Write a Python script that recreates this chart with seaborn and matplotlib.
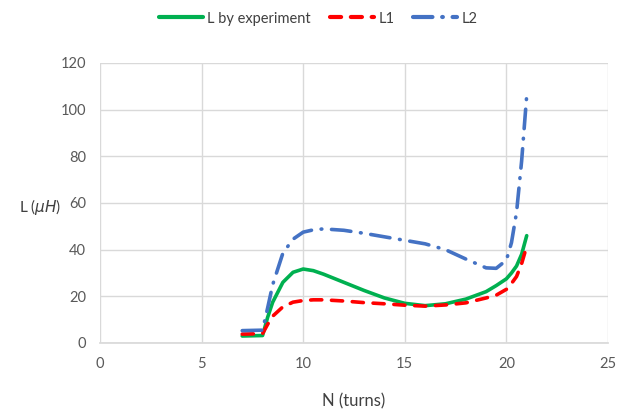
import matplotlib
matplotlib.use("Agg")
import matplotlib.pyplot as plt
import seaborn as sns
import pandas as pd
from matplotlib.lines import Line2D

# ---- data ----
turns = [7, 8, 8.25, 8.5, 9, 9.5, 10, 10.5, 11, 12, 13, 14, 15, 16, 17, 18, 19, 19.5, 20, 20.25, 20.5, 20.75, 21]
l_experiment = [3.0, 3.2, 11.0, 17.5, 26.0, 30.3, 31.7, 31.0, 29.5, 26.0, 22.5, 19.3, 17.0, 16.0, 16.8, 18.8, 22.0, 24.6, 27.5, 30.0, 33.0, 38.0, 46.0]
l1 = [3.8, 4.0, 8.0, 11.5, 15.5, 17.5, 18.2, 18.5, 18.5, 18.0, 17.3, 16.8, 16.2, 15.8, 16.3, 17.2, 19.3, 20.5, 23.0, 25.5, 28.5, 34.0, 41.5]
l2 = [5.3, 5.5, 15.0, 25.0, 38.5, 44.5, 47.5, 48.5, 48.9, 48.3, 47.0, 45.5, 44.0, 42.5, 40.0, 36.0, 32.2, 32.0, 35.5, 43.0, 56.0, 78.0, 106.0]

series_names = ["L by experiment", "L1", "L2"]
x_ticks = [0, 5, 10, 15, 20, 25]
y_ticks = [0, 20, 40, 60, 80, 100, 120]

sns.set_theme(style="whitegrid")
plt.rcParams["font.family"] = ["Lato", "DejaVu Sans"]
plt.rcParams["lines.scale_dashes"] = False

fig = plt.figure(figsize=(6.18, 4.13), dpi=100)
ax = fig.add_axes([0.1618, 0.1695, 0.822, 0.678])

colors = ["#00B050", "#FF0000", "#4472C4"]
styles = ["-", (0, (8, 7)), (0, (14, 7, 0.5, 7))]
values = [l_experiment, l1, l2]

for name, vals, c, ls in zip(series_names, values, colors, styles):
    df = pd.DataFrame({"N": turns, "L": vals})
    sns.lineplot(data=df, x="N", y="L", ax=ax, color=c, linewidth=2.6,
                 linestyle=ls, dash_capstyle="round", solid_capstyle="round")

ax.set_xlim(0, 25)
ax.set_ylim(0, 120)
ax.set_xticks(x_ticks)
ax.set_yticks(y_ticks)
ax.grid(True, color="#D9D9D9", linewidth=1.0)
for s in ax.spines.values():
    s.set_visible(False)
ax.spines["bottom"].set_visible(True)
ax.spines["bottom"].set_color("#D9D9D9")
ax.tick_params(axis="both", colors="#595959", labelsize=10.5, length=0, pad=10)

ax.set_xlabel("N (turns)", fontsize=12, color="#404040", labelpad=16)
ax.set_ylabel(r"L ($\mu H$)", fontsize=11, color="#404040", rotation=0, ha="center", va="center")
ax.yaxis.set_label_coords(-0.118, 0.486)

handles = [Line2D([0], [0], color=c, lw=3, linestyle=ls, dash_capstyle="round", solid_capstyle="round")
           for c, ls in zip(colors, styles)]
fig.legend(handles, series_names, loc="center", bbox_to_anchor=(0.515, 0.955), ncol=3,
           frameon=False, fontsize=10.5, handlelength=3.0, columnspacing=1.3, handletextpad=0.3,
           labelcolor="#404040")

fig.savefig("out.png", dpi=100)
